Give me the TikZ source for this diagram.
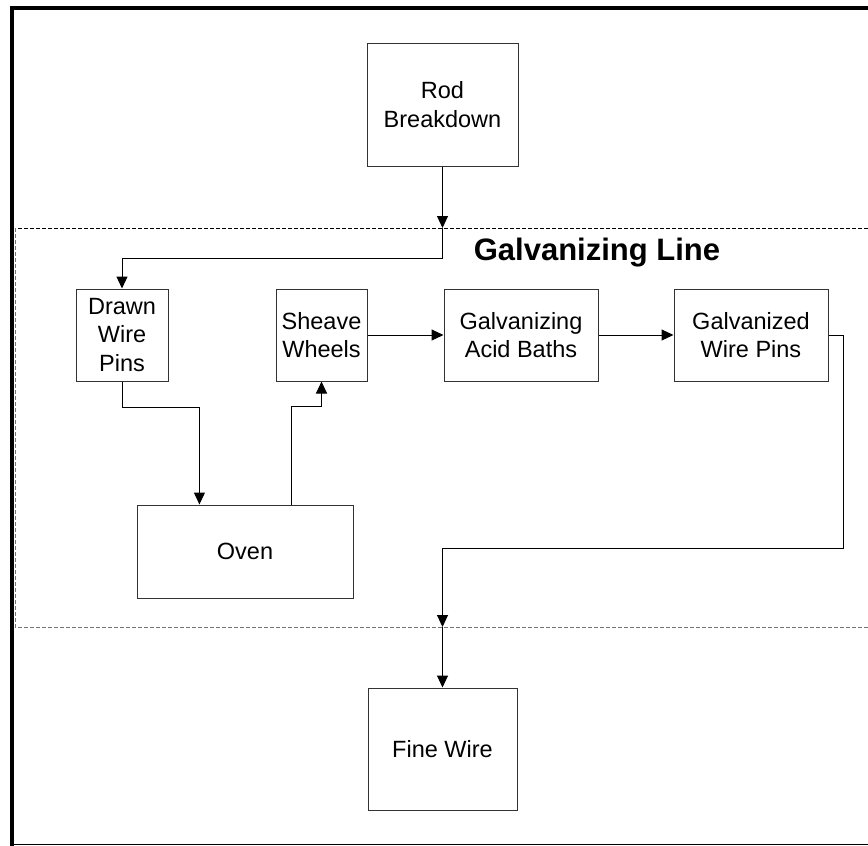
\documentclass[tikz,border=0pt]{standalone}
\usepackage{fontspec}
\setmainfont{Liberation Sans}
\usetikzlibrary{calc, arrows.meta}

\begin{document}
\begin{tikzpicture}[x=1pt, y=-1pt, line width=1pt,
  box/.style={draw=black!80, line width=1pt, align=center, inner sep=0pt,
    font=\fontsize{23.5}{28.5}\selectfont},
  arr/.style={-{Triangle[length=12pt, width=11pt]}},
  zone/.style={dash pattern=on 4pt off 2pt, line width=1pt}]
  \useasboundingbox (0,0) rectangle (868,846);

  % 外框
  \draw[line width=4pt] (12,846) -- (12,8) -- (868,8);
  \draw (10,844) -- (868,844);

  % 镀锌线区域 (虚线)
  \draw[zone] (868,228) -- (15,228);
  \draw[zone, black!55] (15,228) -- (15,627) -- (868,627);
  \node[font=\fontsize{31}{36}\selectfont\bfseries] (title) at (597,253) {Galvanizing Line};

  % 方框
  \node[box, minimum width=151pt, minimum height=123pt] (rod) at (442.5,104.5) {Rod\\Breakdown};
  \node[box, minimum width=92pt, minimum height=92pt] (drawn) at (122,335) {Drawn\\Wire\\Pins};
  \node[box, minimum width=91pt, minimum height=92pt] (sheave) at (321.5,335) {Sheave\\Wheels};
  \node[box, minimum width=154pt, minimum height=92pt] (acid) at (521,335) {Galvanizing\\Acid Baths};
  \node[box, minimum width=154pt, minimum height=92pt] (galvd) at (751,335) {Galvanized\\Wire Pins};
  \node[box, minimum width=216pt, minimum height=93pt] (oven) at (245,551.5) {Oven};
  \node[box, minimum width=149pt, minimum height=122pt] (fine) at (442.5,749) {Fine Wire};

  % 进入区域
  \coordinate (cin) at (rod.south |- 0,228);
  \draw[arr] (rod.south) -- (cin);
  \draw[arr] (cin) -- ++(0,30) -| (drawn.north);

  % 烤炉进出
  \coordinate (ovenin) at ($(oven.north west)!0.29!(oven.north east)$);
  \coordinate (ovenout) at ($(oven.north west)!0.713!(oven.north east)$);
  \draw[arr] (drawn.south) -- ++(0,26) -| (ovenin);
  \draw[arr] (ovenout) -- ++(0,-98) -| (sheave.south);

  \draw[arr] (sheave.east) -- (acid.west);
  \draw[arr] (acid.east) -- (galvd.west);

  % 离开区域
  \coordinate (cout) at (fine.north |- 0,627);
  \draw[arr] (galvd.east) -| (843,548) -| (cout);
  \draw[arr] (cout) -- (fine.north);
\end{tikzpicture}
\end{document}
